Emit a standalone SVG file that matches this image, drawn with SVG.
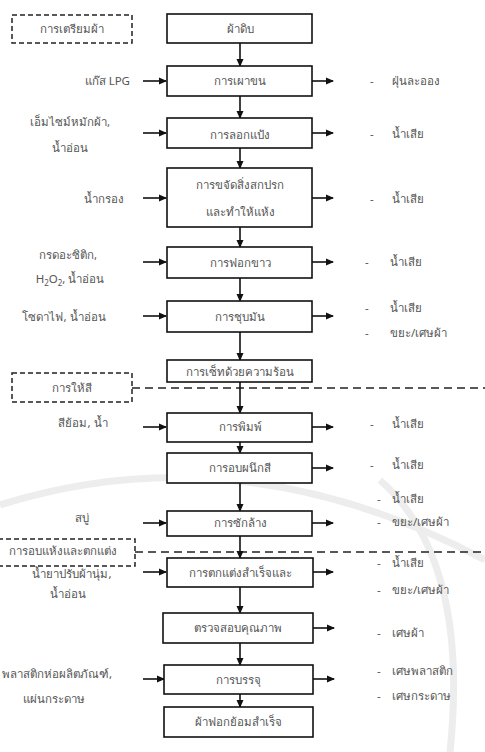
<svg xmlns="http://www.w3.org/2000/svg" width="485" height="752" viewBox="0 0 485 752">
<defs>
<marker id="ah" markerWidth="8" markerHeight="8" refX="7" refY="4" orient="auto" markerUnits="userSpaceOnUse">
<path d="M0,0.5 L8,4 L0,7.5 Z" fill="#111"/>
</marker>
<style>
.box{fill:#fff;stroke:#111;stroke-width:1.6}
.dbox{fill:#fff;stroke:#222;stroke-width:1.5;stroke-dasharray:5,3}
.dl{stroke:#222;stroke-width:1.5;stroke-dasharray:8,5;fill:none}
.ar{stroke:#111;stroke-width:1.6;fill:none;marker-end:url(#ah)}
text{font-family:"Noto Sans","DejaVu Sans",sans-serif;font-size:11.5px;fill:#555}
.c{text-anchor:middle}
.e{text-anchor:end}
.wm{fill:none;stroke:#ededed;stroke-width:7}
</style>
</defs>
<g id="watermark">
<path class="wm" d="M0,505 Q240,430 485,560"/>
<path class="wm" d="M380,480 Q470,560 450,752"/>
</g>
<g id="section-lines">
<rect class="dbox" x="12" y="15" width="120" height="28"/>
<text class="c" x="72" y="33">การเตรียมผ้า</text>
<line class="dl" x1="132" y1="388" x2="485" y2="388"/>
<rect class="dbox" x="12" y="373" width="120" height="29"/>
<text class="c" x="72" y="392">การให้สี</text>
<line class="dl" x1="135" y1="552" x2="485" y2="552"/>
<rect class="dbox" x="-10" y="539" width="145" height="27"/>
<text class="c" x="63" y="555">การอบแห้งและตกแต่ง</text>
</g>
<g id="connectors">
<line class="ar" x1="240" y1="43" x2="240" y2="66"/>
<line class="ar" x1="240" y1="96" x2="240" y2="118"/>
<line class="ar" x1="240" y1="148" x2="240" y2="168"/>
<line class="ar" x1="240" y1="227" x2="240" y2="247"/>
<line class="ar" x1="240" y1="278" x2="240" y2="301"/>
<line class="ar" x1="240" y1="332" x2="240" y2="360"/>
<line class="ar" x1="240" y1="382" x2="240" y2="413"/>
<line class="ar" x1="240" y1="442" x2="240" y2="453"/>
<line class="ar" x1="240" y1="483" x2="240" y2="511"/>
<line class="ar" x1="240" y1="536" x2="240" y2="558"/>
<line class="ar" x1="240" y1="587" x2="240" y2="613"/>
<line class="ar" x1="240" y1="643" x2="240" y2="665"/>
<line class="ar" x1="240" y1="694" x2="240" y2="707"/>
<line class="ar" x1="143" y1="81" x2="166" y2="81"/>
<line class="ar" x1="143" y1="133" x2="166" y2="133"/>
<line class="ar" x1="143" y1="198" x2="166" y2="198"/>
<line class="ar" x1="143" y1="262" x2="166" y2="262"/>
<line class="ar" x1="143" y1="316" x2="166" y2="316"/>
<line class="ar" x1="143" y1="427" x2="166" y2="427"/>
<line class="ar" x1="143" y1="523" x2="166" y2="523"/>
<line class="ar" x1="143" y1="572" x2="166" y2="572"/>
<line class="ar" x1="143" y1="679" x2="164" y2="679"/>
<line class="ar" x1="312" y1="81" x2="333" y2="81"/>
<line class="ar" x1="312" y1="133" x2="333" y2="133"/>
<line class="ar" x1="312" y1="198" x2="333" y2="198"/>
<line class="ar" x1="312" y1="262" x2="333" y2="262"/>
<line class="ar" x1="312" y1="316" x2="333" y2="316"/>
<line class="ar" x1="312" y1="427" x2="333" y2="427"/>
<line class="ar" x1="312" y1="468" x2="333" y2="468"/>
<line class="ar" x1="312" y1="523" x2="333" y2="523"/>
<line class="ar" x1="312" y1="572" x2="333" y2="572"/>
<line class="ar" x1="313" y1="628" x2="334" y2="628"/>
<line class="ar" x1="313" y1="679" x2="334" y2="679"/>
</g>
<g id="n1"><rect class="box" x="167" y="14" width="145" height="29"/><text class="c" x="240" y="33">ผ้าดิบ</text></g>
<g id="n2"><rect class="box" x="167" y="66" width="145" height="30"/><text class="c" x="240" y="85">การเผาขน</text></g>
<g id="n3"><rect class="box" x="167" y="118" width="145" height="30"/><text class="c" x="240" y="139">การลอกแป้ง</text></g>
<g id="n4"><rect class="box" x="167" y="168" width="145" height="59"/><text class="c" x="240" y="189">การขจัดสิ่งสกปรก</text><text class="c" x="240" y="216">และทำให้แห้ง</text></g>
<g id="n5"><rect class="box" x="167" y="247" width="145" height="31"/><text class="c" x="240" y="267">การฟอกขาว</text></g>
<g id="n6"><rect class="box" x="167" y="301" width="145" height="31"/><text class="c" x="240" y="321">การชุบมัน</text></g>
<g id="n7"><rect class="box" x="167" y="360" width="145" height="22"/><text class="c" x="240" y="376">การเซ็ทด้วยความร้อน</text></g>
<g id="n8"><rect class="box" x="167" y="413" width="145" height="29"/><text class="c" x="240" y="431">การพิมพ์</text></g>
<g id="n9"><rect class="box" x="167" y="453" width="145" height="30"/><text class="c" x="240" y="472">การอบผนึกสี</text></g>
<g id="n10"><rect class="box" x="167" y="511" width="145" height="25"/><text class="c" x="240" y="527">การซักล้าง</text></g>
<g id="n11"><rect class="box" x="167" y="558" width="146" height="29"/><text class="c" x="240" y="577">การตกแต่งสำเร็จและ</text></g>
<g id="n12"><rect class="box" x="163" y="613" width="150" height="30"/><text class="c" x="238" y="632">ตรวจสอบคุณภาพ</text></g>
<g id="n13"><rect class="box" x="164" y="665" width="149" height="29"/><text class="c" x="238" y="684">การบรรจุ</text></g>
<g id="n14"><rect class="box" x="164" y="707" width="149" height="30"/><text class="c" x="238" y="726">ผ้าฟอกย้อมสำเร็จ</text></g>
<g id="inputs">
<text class="e" x="130" y="85">แก๊ส LPG</text>
<text class="c" x="70" y="126">เอ็มไซม์หมักผ้า,</text>
<text class="c" x="70" y="152">น้ำอ่อน</text>
<text class="e" x="124" y="203">น้ำกรอง</text>
<text class="c" x="68" y="259">กรดอะซิติก,</text>
<text class="c" x="70" y="283">H<tspan font-size="8" dy="3">2</tspan><tspan dy="-3">O</tspan><tspan font-size="8" dy="3">2</tspan><tspan dy="-3">, น้ำอ่อน</tspan></text>
<text class="c" x="64" y="321">โซดาไฟ, น้ำอ่อน</text>
<text class="c" x="83" y="427">สีย้อม, น้ำ</text>
<text class="c" x="82" y="522">สบู่</text>
<text class="c" x="72" y="578">น้ำยาปรับผ้านุ่ม,</text>
<text class="c" x="68" y="598">น้ำอ่อน</text>
<text class="c" x="57" y="678" font-size="11">พลาสติกห่อผลิตภัณฑ์,</text>
<text class="c" x="54" y="703">แผ่นกระดาษ</text>
</g>
<g id="outputs">
<text x="370" y="85">-</text><text x="392" y="85">ฝุ่นละออง</text>
<text x="370" y="138">-</text><text x="392" y="138">น้ำเสีย</text>
<text x="370" y="203">-</text><text x="392" y="203">น้ำเสีย</text>
<text x="365" y="266">-</text><text x="390" y="266">น้ำเสีย</text>
<text x="365" y="312">-</text><text x="390" y="312">น้ำเสีย</text>
<text x="365" y="337">-</text><text x="390" y="337">ขยะ/เศษผ้า</text>
<text x="370" y="428">-</text><text x="392" y="428">น้ำเสีย</text>
<text x="370" y="469">-</text><text x="392" y="469">น้ำเสีย</text>
<text x="377" y="503">-</text><text x="392" y="503">น้ำเสีย</text>
<text x="377" y="526">-</text><text x="392" y="526">ขยะ/เศษผ้า</text>
<text x="377" y="567">-</text><text x="392" y="567">น้ำเสีย</text>
<text x="377" y="594">-</text><text x="392" y="594">ขยะ/เศษผ้า</text>
<text x="377" y="637">-</text><text x="392" y="637">เศษผ้า</text>
<text x="377" y="675">-</text><text x="392" y="675">เศษพลาสติก</text>
<text x="377" y="700">-</text><text x="392" y="700">เศษกระดาษ</text>
</g>
</svg>
